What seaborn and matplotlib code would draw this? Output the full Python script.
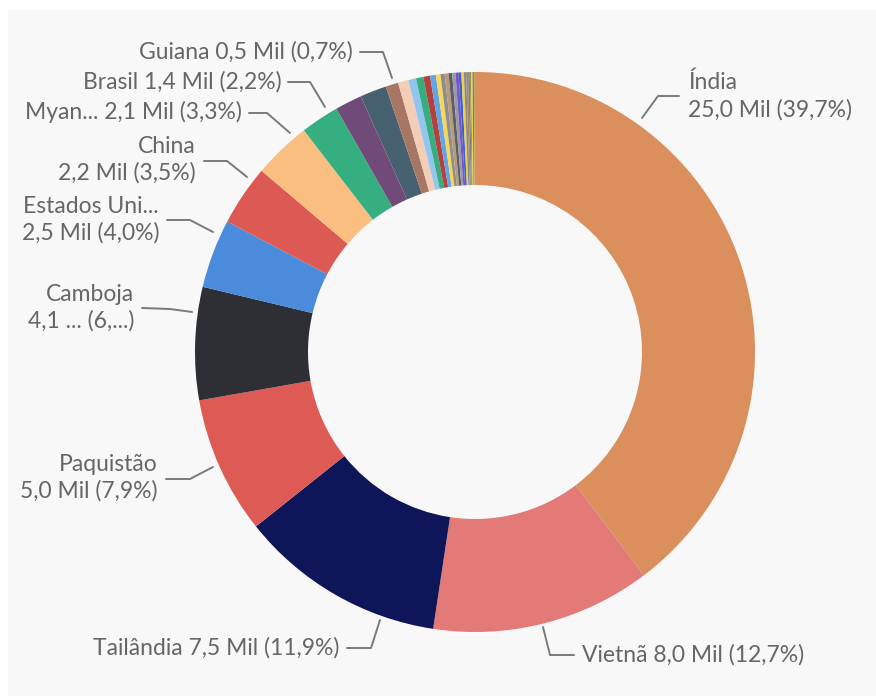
import matplotlib
matplotlib.use("Agg")
import matplotlib.pyplot as plt
import seaborn as sns
from matplotlib.patches import Rectangle

# data (Mil), sorted descending as in the donut
countries = ["Índia", "Vietnã", "Tailândia", "Paquistão", "Camboja", "Estados Unidos",
             "China", "Myanmar", "Brasil", "País 10", "País 11", "Guiana",
             "País 13", "País 14", "País 15", "País 16", "País 17", "País 18",
             "País 19", "País 20", "País 21", "País 22", "País 23", "País 24",
             "País 25", "País 26", "País 27", "País 28", "País 29", "País 30",
             "País 31", "País 32"]
values = [25.0, 8.0, 7.5, 5.0, 4.1, 2.5,
          2.2, 2.1, 1.4, 0.98, 0.96, 0.46,
          0.38, 0.28, 0.27, 0.24, 0.21, 0.17,
          0.15, 0.14, 0.13, 0.12, 0.11, 0.10,
          0.09, 0.08, 0.07, 0.06, 0.05, 0.05,
          0.05, 0.04]
colors = ["#DA8F5C", "#E37A78", "#0E1558", "#DE5B55", "#2E2F34", "#4A8BDB",
          "#DC5A53", "#F9BE80", "#35AF7F", "#704A78", "#47606F", "#A77763",
          "#F3CDB6", "#93C6EE", "#35AF7F", "#B6403D", "#5FA5E8", "#F8D657",
          "#8E8E8E", "#B79B7A", "#5E5E66", "#9A9AA6", "#7856C8", "#3A62D8",
          "#F2CF3C", "#8A8A8A", "#A88668", "#7E7E7E", "#A3923E", "#E9D23A",
          "#6F7D8C", "#C9A45C"]

# label text shown in the reference (truncated names kept as displayed)
label_text = {
    "Índia": "Índia\n{v} Mil ({p})",
    "Vietnã": "Vietnã {v} Mil ({p})",
    "Tailândia": "Tailândia {v} Mil ({p})",
    "Paquistão": "Paquistão\n{v} Mil ({p})",
    "Camboja": "Camboja\n4,1 ... (6,...)",
    "Estados Unidos": "Estados Uni...\n{v} Mil ({p})",
    "China": "China\n{v} Mil ({p})",
    "Myanmar": "Myan... {v} Mil ({p})",
    "Brasil": "Brasil {v} Mil ({p})",
    "Guiana": "Guiana {v} Mil ({p})",
}

W, H = 876, 696
CX, CY, R_OUT, R_IN = 475, 352, 280, 167

# leader lines (pixel coords from top-left) and label anchors
layout = {
    "Índia": ([(642, 118), (658, 96), (679, 96)], (688, 96), "left"),
    "Vietnã": ([(543, 627), (550, 655), (574, 655)], (582, 655), "left"),
    "Tailândia": ([(380, 620), (371, 648), (347, 648)], (339, 648), "right"),
    "Paquistão": ([(213, 467), (190, 479), (166, 479)], (158, 478), "right"),
    "Camboja": ([(192, 312), (170, 309), (142, 308)], (134, 308), "right"),
    "Estados Unidos": ([(213, 232), (190, 220), (167, 220)], (159, 220), "right"),
    "China": ([(247, 177), (227, 161), (204, 161)], (196, 160), "right"),
    "Myanmar": ([(290, 133), (267, 113), (249, 113)], (242, 112), "right"),
    "Brasil": ([(325, 107), (310, 82), (288, 82)], (282, 82), "right"),
    "Guiana": ([(392, 78), (383, 52), (360, 52)], (353, 52), "right"),
}


def fy(y):
    return H - y


def fmt(x, d=1):
    return f"{x:.{d}f}".replace(".", ",")


sns.set_theme(style="white")
plt.rcParams["font.family"] = ["Lato", "DejaVu Sans"]

fig = plt.figure(figsize=(W / 100, H / 100), dpi=100)
fig.patch.set_facecolor("white")
ax = fig.add_axes([0, 0, 1, 1])

ax.add_patch(Rectangle((8, 0), W - 8, H - 10, facecolor="#F8F8F8", edgecolor="none", zorder=0))

palette = sns.color_palette(colors)
ax.pie(values, colors=palette, startangle=90, counterclock=False,
       radius=R_OUT, center=(CX, fy(CY)), frame=True,
       wedgeprops=dict(width=R_OUT - R_IN, edgecolor="none", zorder=2))
ax.set_xlim(0, W)
ax.set_ylim(0, H)
ax.set_aspect("equal")
ax.axis("off")

total = sum(values)
text_color = "#666666"
for name, (pts, anchor, ha) in layout.items():
    v = values[countries.index(name)]
    txt = label_text[name].format(v=fmt(v), p=fmt(100 * v / total) + "%")
    xs = [p[0] for p in pts]
    ys = [fy(p[1]) for p in pts]
    ax.plot(xs, ys, color="#7A7A7A", lw=1.4, solid_capstyle="round", zorder=3)
    ax.text(anchor[0], fy(anchor[1]), txt, ha=ha, va="center", color=text_color,
            fontsize=16.5, linespacing=1.3, multialignment=ha, zorder=4)

fig.savefig("out.png", dpi=100, facecolor="white")
